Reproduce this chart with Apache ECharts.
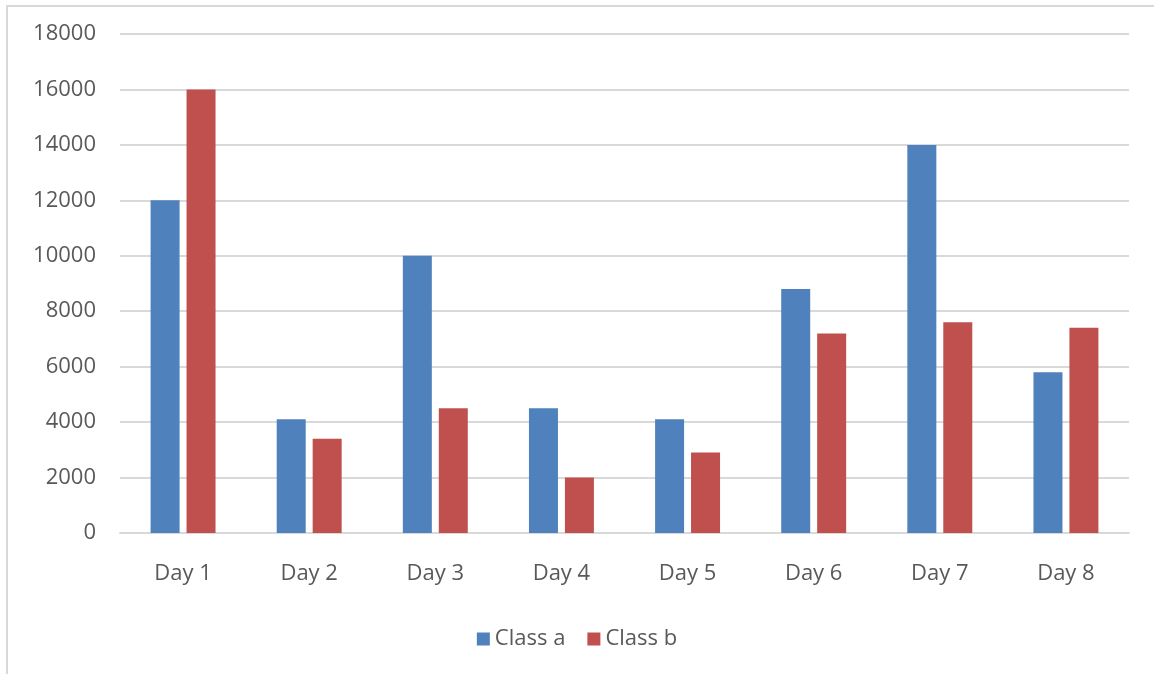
<!DOCTYPE html>
<html><head><meta charset="utf-8">
<script src="https://cdn.jsdelivr.net/npm/echarts@6/dist/echarts.min.js"></script>
<style>html,body{margin:0;padding:0;background:#fff}#c{width:1154px;height:674px;position:relative}
#frame{position:absolute;left:6px;top:5px;width:1160px;height:680px;border-left:2px solid #d9d9d9;border-top:2px solid #d9d9d9;}</style>
</head><body><div id="c"></div><div id="frame" style="pointer-events:none"></div>
<script>
const categories = ['Day 1','Day 2','Day 3','Day 4','Day 5','Day 6','Day 7','Day 8'];
const classA = [12000, 4100, 10000, 4500, 4100, 8800, 14000, 5800];
const classB = [16000, 3400, 4500, 2000, 2900, 7200, 7600, 7400];
const FONT = '"Open Sans", sans-serif';
const chart = echarts.init(document.getElementById('c'));
chart.setOption({
  animation:false,
  textStyle:{fontFamily:FONT},
  grid:{left:120,right:25,top:34,bottom:141},
  legend:{bottom:19,left:'center',itemWidth:13,itemHeight:13,itemGap:22,icon:'rect',
    textStyle:{fontSize:22,color:'#595959',fontFamily:FONT},
    data:['Class a','Class b']},
  xAxis:{type:'category',data:categories,
    axisLine:{lineStyle:{color:'#d9d9d9',width:2}},axisTick:{show:false},
    axisLabel:{fontSize:22,color:'#595959',margin:30,fontFamily:FONT}},
  yAxis:{type:'value',min:0,max:18000,interval:2000,
    axisLine:{show:false},axisTick:{show:false},
    splitLine:{lineStyle:{color:'#d9d9d9',width:2}},
    axisLabel:{fontSize:22,color:'#595959',margin:24,fontFamily:FONT,formatter:v=>String(v)}},
  series:[
    {name:'Class a',type:'bar',data:classA,barWidth:29,barGap:'24%',itemStyle:{color:'#4f81bd'}},
    {name:'Class b',type:'bar',data:classB,barWidth:29,itemStyle:{color:'#c0504d'}}
  ]
});
</script></body></html>
